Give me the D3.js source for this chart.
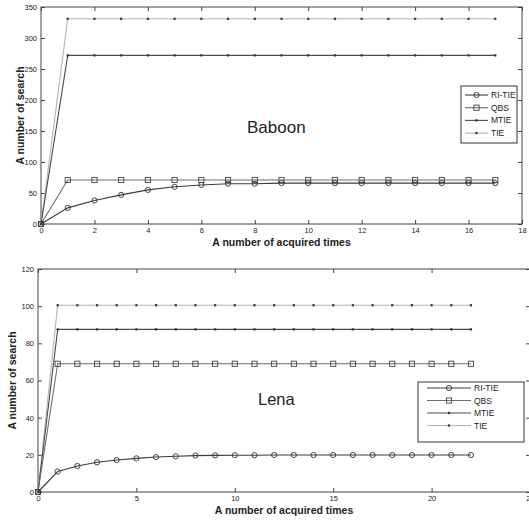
<!DOCTYPE html>
<html lang="en">
<head>
    <meta charset="UTF-8">
    <title>Baboon / Lena search counts</title>
    <style>
        body { margin: 0; background: #fff; }
        svg { display: block; }
        text { font-family: "Liberation Sans", Arial, sans-serif; fill: #222; }
        .tick-label { font-size: 7.5px; }
        .axis-label { font-size: 10.5px; font-weight: bold; }
        .legend-text { font-size: 8.5px; }
        .title { font-size: 17px; }
    </style>
    <script src="https://d3js.org/d3.v7.min.js"></script>
</head>
<body>
    <svg width="529" height="520"></svg>

    <script>
        // Baboon (top chart), x = 0..17
        const baboonX = [0, 1, 2, 3, 4, 5, 6, 7, 8, 9, 10, 11, 12, 13, 14, 15, 16, 17];
        const baboonRiTie = [0, 26, 38, 47, 55, 60, 63, 65, 65, 66, 66, 66, 66, 66, 66, 66, 66, 66];
        const baboonQbs = [0, 71, 71, 71, 71, 71, 71, 71, 71, 71, 71, 71, 71, 71, 71, 71, 71, 71];
        const baboonMtie = [0, 272, 272, 272, 272, 272, 272, 272, 272, 272, 272, 272, 272, 272, 272, 272, 272, 272];
        const baboonTie = [0, 331, 331, 331, 331, 331, 331, 331, 331, 331, 331, 331, 331, 331, 331, 331, 331, 331];
        const baboonXTicks = [0, 2, 4, 6, 8, 10, 12, 14, 16, 18];
        const baboonYTicks = [0, 50, 100, 150, 200, 250, 300, 350];

        // Lena (bottom chart), x = 0..22
        const lenaX = [0, 1, 2, 3, 4, 5, 6, 7, 8, 9, 10, 11, 12, 13, 14, 15, 16, 17, 18, 19, 20, 21, 22];
        const lenaRiTie = [0, 11, 14, 16, 17.2, 18.1, 18.8, 19.2, 19.6, 19.7, 19.8, 19.8, 19.9, 19.9, 19.9, 19.9, 19.9, 19.9, 19.9, 19.9, 19.9, 19.9, 19.9];
        const lenaQbs = [0, 69, 69, 69, 69, 69, 69, 69, 69, 69, 69, 69, 69, 69, 69, 69, 69, 69, 69, 69, 69, 69, 69];
        const lenaMtie = [0, 87.5, 87.5, 87.5, 87.5, 87.5, 87.5, 87.5, 87.5, 87.5, 87.5, 87.5, 87.5, 87.5, 87.5, 87.5, 87.5, 87.5, 87.5, 87.5, 87.5, 87.5, 87.5];
        const lenaTie = [0, 100.5, 100.5, 100.5, 100.5, 100.5, 100.5, 100.5, 100.5, 100.5, 100.5, 100.5, 100.5, 100.5, 100.5, 100.5, 100.5, 100.5, 100.5, 100.5, 100.5, 100.5, 100.5];
        const lenaXTicks = [0, 5, 10, 15, 20, 25];
        const lenaYTicks = [0, 20, 40, 60, 80, 100, 120];

        const seriesNames = ["RI-TIE", "QBS", "MTIE", "TIE"];
        const seriesStyle = {
            "RI-TIE": {color: "#3c3c3c", marker: "circle"},
            "QBS": {color: "#6e6e6e", marker: "square"},
            "MTIE": {color: "#4a4a4a", marker: "dot"},
            "TIE": {color: "#b4b4b4", marker: "dot"}
        };

        const svg = d3.select("svg");

        function drawMarker(g, kind, x, y, color, size) {
            if (kind === "circle") {
                g.append("circle").attr("cx", x).attr("cy", y).attr("r", size)
                    .attr("fill", "none").attr("stroke", "#333").attr("stroke-width", 0.9);
            } else if (kind === "square") {
                g.append("rect").attr("x", x - size).attr("y", y - size)
                    .attr("width", size * 2).attr("height", size * 2)
                    .attr("fill", "none").attr("stroke", "#444").attr("stroke-width", 0.9);
            } else {
                g.append("rect").attr("x", x - 1.1).attr("y", y - 1.1)
                    .attr("width", 2.2).attr("height", 2.2).attr("fill", "#333");
            }
        }

        function drawChart(cfg) {
            const g = svg.append("g");
            const x = d3.scaleLinear().domain(cfg.xDomain).range([cfg.left, cfg.right]);
            const y = d3.scaleLinear().domain(cfg.yDomain).range([cfg.bottom, cfg.top]);

            // plot box
            g.append("rect")
                .attr("x", cfg.left).attr("y", cfg.top)
                .attr("width", cfg.right - cfg.left).attr("height", cfg.bottom - cfg.top)
                .attr("fill", "none").attr("stroke", "#444").attr("stroke-width", 1);

            // axes with inward ticks (mirrored on top and right)
            const axisStyle = a => a.call(s => s.select(".domain").remove())
                .call(s => s.selectAll("line").attr("stroke", "#444"));
            g.append("g").attr("transform", `translate(0,${cfg.bottom})`)
                .call(d3.axisBottom(x).tickValues(cfg.xTicks).tickSize(-4).tickPadding(4))
                .call(axisStyle)
                .call(s => s.selectAll("text").attr("class", "tick-label").attr("fill", "#222"));
            g.append("g").attr("transform", `translate(0,${cfg.top})`)
                .call(d3.axisTop(x).tickValues(cfg.xTicks).tickSize(-4).tickFormat(""))
                .call(axisStyle);
            g.append("g").attr("transform", `translate(${cfg.left},0)`)
                .call(d3.axisLeft(y).tickValues(cfg.yTicks).tickSize(-4).tickPadding(4))
                .call(axisStyle)
                .call(s => s.selectAll("text").attr("class", "tick-label").attr("fill", "#222"));
            g.append("g").attr("transform", `translate(${cfg.right},0)`)
                .call(d3.axisRight(y).tickValues(cfg.yTicks).tickSize(-4).tickFormat(""))
                .call(axisStyle);

            // series, drawn back to front
            const order = ["TIE", "MTIE", "QBS", "RI-TIE"];
            order.forEach(name => {
                const vals = cfg.series[name];
                const st = seriesStyle[name];
                const line = d3.line().x((d, i) => x(cfg.xs[i])).y(d => y(d));
                g.append("path").datum(vals)
                    .attr("d", line)
                    .attr("fill", "none")
                    .attr("stroke", st.color)
                    .attr("stroke-width", 1.1);
                const mg = g.append("g");
                vals.forEach((v, i) => drawMarker(mg, st.marker, x(cfg.xs[i]), y(v), st.color, cfg.markerSize));
            });

            // title
            g.append("text").attr("class", "title")
                .attr("x", cfg.titleX).attr("y", cfg.titleY)
                .style("font-size", cfg.titleSize + "px")
                .text(cfg.title);

            // axis labels
            g.append("text").attr("class", "axis-label")
                .attr("x", (cfg.left + cfg.right) / 2).attr("y", cfg.xLabelY)
                .attr("text-anchor", "middle")
                .text("A number of acquired times");
            g.append("text").attr("class", "axis-label")
                .attr("transform", `translate(${cfg.yLabelX},${(cfg.top + cfg.bottom) / 2}) rotate(-90)`)
                .attr("text-anchor", "middle")
                .text("A number of search");

            // legend
            const lg = g.append("g");
            lg.append("rect")
                .attr("x", cfg.legend.x).attr("y", cfg.legend.y)
                .attr("width", cfg.legend.w).attr("height", cfg.legend.h)
                .attr("fill", "#fff").attr("stroke", "#333").attr("stroke-width", 1);
            seriesNames.forEach((name, i) => {
                const st = seriesStyle[name];
                const ly = cfg.legend.y + cfg.legend.first + i * cfg.legend.step;
                const x1 = cfg.legend.x + cfg.legend.lineStart;
                const x2 = x1 + cfg.legend.lineLen;
                lg.append("line").attr("x1", x1).attr("x2", x2).attr("y1", ly).attr("y2", ly)
                    .attr("stroke", st.color).attr("stroke-width", 1.1);
                drawMarker(lg, st.marker, (x1 + x2) / 2, ly, st.color, cfg.markerSize);
                lg.append("text").attr("class", "legend-text")
                    .attr("x", x2 + 3).attr("y", ly + 3)
                    .text(name);
            });
        }

        drawChart({
            xs: baboonX,
            series: {"RI-TIE": baboonRiTie, "QBS": baboonQbs, "MTIE": baboonMtie, "TIE": baboonTie},
            xDomain: [0, 18], yDomain: [0, 350],
            xTicks: baboonXTicks, yTicks: baboonYTicks,
            left: 41, right: 522, top: 7, bottom: 224,
            markerSize: 2.6,
            title: "Baboon", titleX: 247, titleY: 133, titleSize: 17,
            xLabelY: 246, yLabelX: 24,
            legend: {x: 461, y: 86, w: 56, h: 57, first: 9, step: 12.7, lineStart: 4, lineLen: 23}
        });

        drawChart({
            xs: lenaX,
            series: {"RI-TIE": lenaRiTie, "QBS": lenaQbs, "MTIE": lenaMtie, "TIE": lenaTie},
            xDomain: [0, 25], yDomain: [0, 120],
            xTicks: lenaXTicks, yTicks: lenaYTicks,
            left: 38, right: 530, top: 269, bottom: 492,
            markerSize: 2.6,
            title: "Lena", titleX: 258, titleY: 405, titleSize: 16.5,
            xLabelY: 514, yLabelX: 16,
            legend: {x: 418, y: 382, w: 106, h: 60, first: 6, step: 12.5, lineStart: 9, lineLen: 44}
        });
    </script>
</body>
</html>
